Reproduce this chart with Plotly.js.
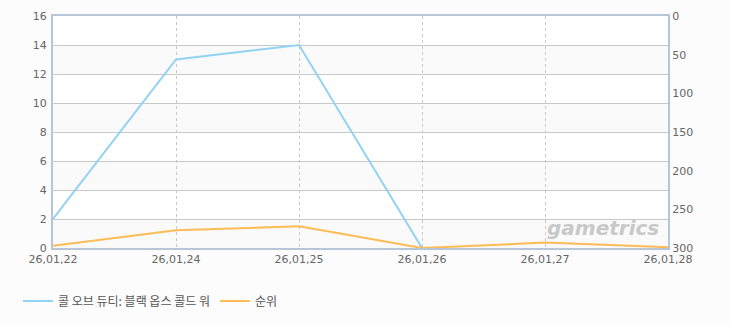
<!DOCTYPE html>
<html>
<head>
<meta charset="utf-8">
<script src="https://cdn.plot.ly/plotly-3.0.1.min.js"></script>
<style>
html,body{margin:0;padding:0;background:#fcfcfc;}
#chart{width:730px;height:325px;}
</style>
</head>
<body>
<div id="chart"></div>
<script>
var dates = ['26,01,22','26,01,24','26,01,25','26,01,26','26,01,27','26,01,28'];
var gameValues = [2, 13, 14, 0, null, null];
var rankValues = [297, 277, 272, 300, 293, 299];
var leftTicks = [0, 2, 4, 6, 8, 10, 12, 14, 16];
var rightTicks = [0, 50, 100, 150, 200, 250, 300];
var seriesNames = ['콜 오브 듀티: 블랙 옵스 콜드 워', '순위'];

var tickFont = {family: 'DejaVu Sans, Liberation Sans, sans-serif', size: 11, color: '#666666'};

var traces = [
  {x: dates, y: gameValues, name: seriesNames[0], type: 'scatter', mode: 'lines',
   line: {color: '#92d2f2', width: 2}, yaxis: 'y', connectgaps: false},
  {x: dates, y: rankValues, name: seriesNames[1], type: 'scatter', mode: 'lines',
   line: {color: '#ffbb55', width: 2}, yaxis: 'y2'}
];

// alternating background bands
var shapes = [];
for (var i = 0; i < leftTicks.length - 1; i += 2) {
  shapes.push({type: 'rect', xref: 'paper', yref: 'y', x0: 0, x1: 1,
    y0: leftTicks[i], y1: leftTicks[i + 1], fillcolor: '#fafafa', line: {width: 0}, layer: 'below'});
}

var layout = {
  width: 730, height: 325,
  margin: {l: 53, r: 62, t: 16, b: 77},
  paper_bgcolor: '#fcfcfc',
  plot_bgcolor: '#ffffff',
  showlegend: true,
  hovermode: false,
  xaxis: {
    type: 'category', range: [0, dates.length - 1],
    showgrid: true, gridcolor: '#c8c8c8', griddash: '3px,3px', gridwidth: 1,
    showline: true, linecolor: '#b4c6d8', linewidth: 2, mirror: true,
    ticks: '', tickfont: tickFont, zeroline: false, automargin: false
  },
  yaxis: {
    range: [0, 16], tickvals: leftTicks, ticktext: leftTicks.map(String),
    showgrid: true, gridcolor: '#c8c8c8', gridwidth: 1,
    showline: true, linecolor: '#b4c6d8', linewidth: 2,
    ticks: '', tickfont: tickFont, zeroline: false, ticklabelstandoff: 2, automargin: false
  },
  yaxis2: {
    overlaying: 'y', side: 'right', range: [300, 0],
    tickvals: rightTicks, ticktext: rightTicks.map(String),
    showgrid: false, showline: true, linecolor: '#b4c6d8', linewidth: 2,
    ticks: '', tickfont: tickFont, zeroline: false, ticklabelstandoff: 0, automargin: false
  },
  legend: {
    orientation: 'h', xref: 'container', yref: 'container',
    x: 18 / 730, y: 24 / 325, xanchor: 'left', yanchor: 'middle',
    font: {family: 'Noto Sans CJK KR, sans-serif', size: 12, color: '#555555'},
    bgcolor: 'rgba(0,0,0,0)'
  },
  shapes: shapes,
  annotations: [{
    text: '<b><i>gametrics</i></b>', xref: 'paper', yref: 'paper',
    x: 0.894, y: 0.086, xanchor: 'center', yanchor: 'middle', showarrow: false,
    font: {family: 'DejaVu Sans, sans-serif', size: 20, color: '#c8c8c8'}
  }]
};

Plotly.newPlot('chart', traces, layout, {displayModeBar: false, staticPlot: true});
</script>
</body>
</html>
